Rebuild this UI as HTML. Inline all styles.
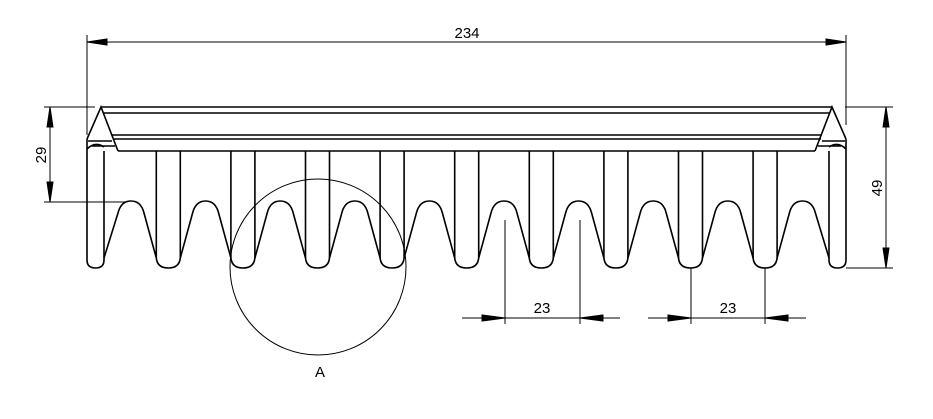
<!DOCTYPE html>
<html><head><style>
html,body{margin:0;padding:0;background:#fff;width:933px;height:419px;overflow:hidden}
text{font-family:"Liberation Sans",sans-serif;font-size:15px;fill:#000}
</style></head><body>
<svg id="s" width="933" height="419" viewBox="0 0 933 419" xmlns="http://www.w3.org/2000/svg">
<g fill="none" stroke="#000" stroke-width="1.6" id="g">
<!-- top plate -->
<line x1="101" y1="107" x2="832" y2="107"/>
<line x1="104" y1="113" x2="830" y2="113"/>
<line x1="112" y1="135" x2="822" y2="135"/>
<line x1="113" y1="139" x2="821" y2="139"/>
<line x1="118" y1="151" x2="815" y2="151"/>
<path d="M87 139 L101 107 L118 151"/>
<path d="M846 139 L832 107 L815 151"/>
<path d="M88 141 L112 141 M92 146 L115 146 M845 141 L822 141 M841 146 L818 146"/>
<!-- end walls -->
<path d="M87 139 L87 260 Q87 268 95.5 268 Q104 268 104 260 L104 151"/>
<path d="M87 149 Q95 141 104 147"/>
<path d="M846 139 L846 260 Q846 268 837.5 268 Q829 268 829 260 L829 151"/>
<path d="M846 149 Q838 141 829 147"/>
</g>
<g stroke="#000" stroke-width="1" fill="#000">
<!-- top dim -->
<line x1="87" y1="35" x2="87" y2="135" fill="none"/>
<line x1="846" y1="35" x2="846" y2="125" fill="none"/>
<line x1="87" y1="42" x2="846" y2="42"/>
<polygon points="87,42 107,39 107,45"/>
<polygon points="846,42 826,39 826,45"/>
<!-- left dim -->
<line x1="44" y1="107" x2="95" y2="107"/>
<line x1="44" y1="202" x2="125" y2="202"/>
<line x1="50" y1="107" x2="50" y2="202"/>
<polygon points="50,107 47,127 53,127"/>
<polygon points="50,202 47,182 53,182"/>
<!-- right dim -->
<line x1="845" y1="107" x2="893" y2="107"/>
<line x1="846" y1="268" x2="893" y2="268"/>
<line x1="886" y1="107" x2="886" y2="268"/>
<polygon points="886,107 883,127 889,127"/>
<polygon points="886,268 883,248 889,248"/>
<!-- bottom dims -->
<line x1="505" y1="220" x2="505" y2="324"/>
<line x1="580" y1="220" x2="580" y2="324"/>
<line x1="462" y1="318" x2="620" y2="318"/>
<polygon points="505,318 482,315 482,321"/>
<polygon points="580,318 603,315 603,321"/>
<line x1="691" y1="268" x2="691" y2="324"/>
<line x1="765" y1="268" x2="765" y2="324"/>
<line x1="648" y1="318" x2="806" y2="318"/>
<polygon points="691,318 668,315 668,321"/>
<polygon points="765,318 788,315 788,321"/>
<circle cx="318" cy="267" r="88" fill="none"/>
</g>
<text x="467" y="38" text-anchor="middle">234</text>
<text x="542" y="313" text-anchor="middle">23</text>
<text x="728" y="313" text-anchor="middle">23</text>
<text x="320" y="377" text-anchor="middle">A</text>
<text transform="translate(46,155) rotate(-90)" text-anchor="middle">29</text>
<text transform="translate(882,188) rotate(-90)" text-anchor="middle">49</text>
</svg>
<script>
var g=document.getElementById('g');var ns="http://www.w3.org/2000/svg";
var P=74.6;var d="M104 258";
for(var i=0;i<10;i++){var c=131+P*i;
d+=" L"+(c-13)+" 213 Q"+(c-10)+" 201 "+c+" 201 Q"+(c+10)+" 201 "+(c+13)+" 213";
if(i<9){var t=168.3+P*i;d+=" L"+(t-12)+" 258 Q"+(t-11)+" 268 "+t+" 268 Q"+(t+11)+" 268 "+(t+12)+" 258";
var v=document.createElementNS(ns,'path');v.setAttribute('d',"M"+(t-12)+" 151 L"+(t-12)+" 258 M"+(t+12)+" 151 L"+(t+12)+" 258");g.appendChild(v);}
else d+=" L829 258";}
var p=document.createElementNS(ns,'path');p.setAttribute('d',d);g.appendChild(p);
</script>
</body></html>
